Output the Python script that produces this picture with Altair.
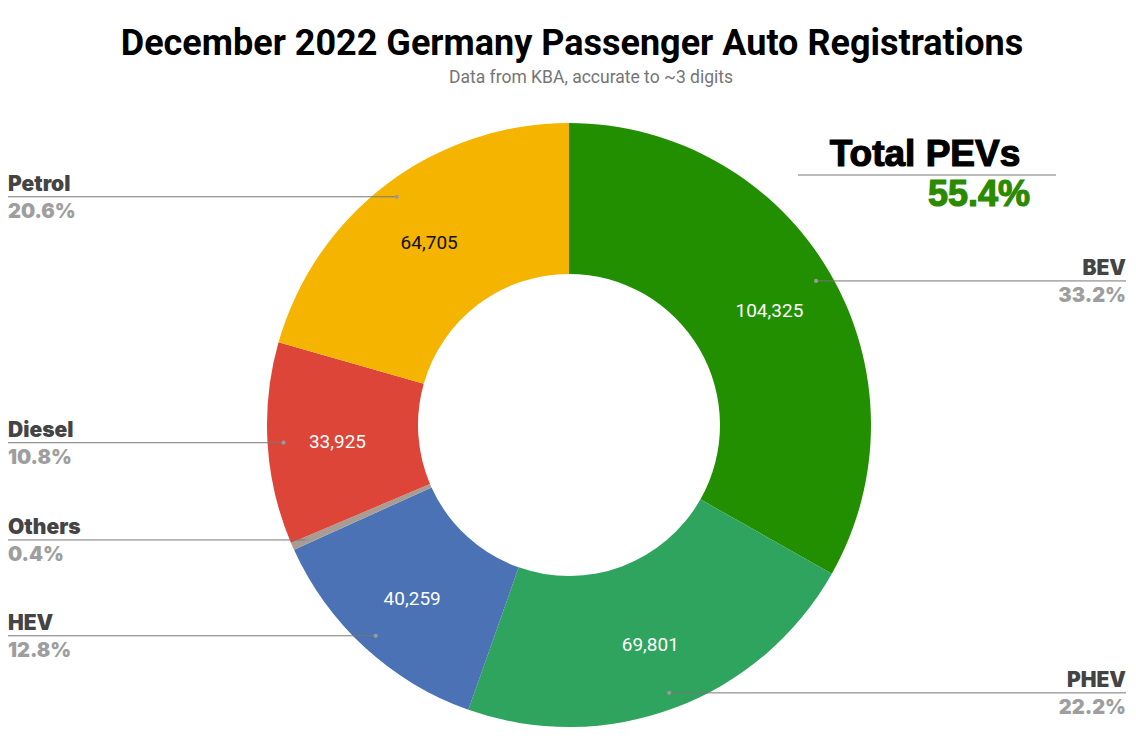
import altair as alt
import pandas as pd

# ---- data ----
categories = ["BEV", "PHEV", "HEV", "Others", "Diesel", "Petrol"]
values = [104325, 69801, 40259, 1250, 33925, 64705]
order_idx = [0, 1, 2, 3, 4, 5]
colors = ["#228F00", "#2EA45E", "#4A72B5", "#A89C94", "#DD4538", "#F4B400"]

title_text = "December 2022 Germany Passenger Auto Registrations"
subtitle_text = "Data from KBA, accurate to ~3 digits"
pev_title = "Total PEVs"
pev_value = "55.4%"

df = pd.DataFrame({"category": categories, "value": values, "idx": order_idx})

CX, CY = 561, 417
R_OUT, R_IN = 302, 151
R_DOT, R_LBL = 286, 232
W, H = 1120, 736

base = alt.Chart(df).transform_joinaggregate(
    total="sum(value)"
).transform_window(
    cum="sum(value)", sort=[alt.SortField("idx")], frame=[None, 0]
).transform_calculate(
    mid="2*PI*(datum.cum - datum.value/2)/datum.total",
    pct="format(datum.value/datum.total, '.1%')",
).transform_calculate(
    dx=f"{CX} + {R_DOT}*sin(datum.mid)",
    dy=f"{CY} - {R_DOT}*cos(datum.mid)",
    lx=f"{CX} + {R_LBL}*sin(datum.mid)",
    ly=f"{CY} + 3 - {R_LBL}*cos(datum.mid)",
    right="sin(datum.mid) > 0",
    ny="datum.dy - 6",
    py="datum.dy + 5",
    xl="0",
    xr=f"{W - 2}",
)

arcs = alt.Chart(df).mark_arc(innerRadius=R_IN, outerRadius=R_OUT).encode(
    theta=alt.Theta("value:Q", stack=True),
    color=alt.Color("category:N", scale=alt.Scale(domain=categories, range=colors), legend=None),
    order=alt.Order("idx:Q"),
    x=alt.value(CX),
    y=alt.value(CY),
)

inner = base.transform_filter("datum.value > 5000").mark_text(
    font="Roboto", fontSize=19, align="center", baseline="middle"
).encode(
    x=alt.X("lx:Q", scale=None),
    y=alt.Y("ly:Q", scale=None),
    text=alt.Text("value:Q", format=","),
    color=alt.condition(alt.datum.category == "Petrol", alt.value("#111111"), alt.value("white")),
)

dots = base.mark_circle(size=18, opacity=1, color="#9a9a9a").encode(
    x=alt.X("dx:Q", scale=None),
    y=alt.Y("dy:Q", scale=None),
)

left = base.transform_filter("!datum.right")
right = base.transform_filter("datum.right")

rule_l = left.mark_rule(color="#777777", strokeWidth=1).encode(
    x=alt.X("xl:Q", scale=None), x2="dx:Q", y=alt.Y("dy:Q", scale=None)
)
rule_r = right.mark_rule(color="#777777", strokeWidth=1).encode(
    x=alt.X("dx:Q", scale=None), x2="xr:Q", y=alt.Y("dy:Q", scale=None)
)

name_kw = dict(font="Inter", fontWeight=900, fontSize=21, color="#444444", baseline="alphabetic")
pct_kw = dict(font="Inter", fontWeight=900, fontSize=20, color="#9e9e9e", baseline="top")

name_l = left.mark_text(align="left", **name_kw).encode(
    x=alt.X("xl:Q", scale=None), y=alt.Y("ny:Q", scale=None), text="category:N")
pct_l = left.mark_text(align="left", **pct_kw).encode(
    x=alt.X("xl:Q", scale=None), y=alt.Y("py:Q", scale=None), text="pct:N")
name_r = right.mark_text(align="right", **name_kw).encode(
    x=alt.X("xr:Q", scale=None), y=alt.Y("ny:Q", scale=None), text="category:N")
pct_r = right.mark_text(align="right", **pct_kw).encode(
    x=alt.X("xr:Q", scale=None), y=alt.Y("py:Q", scale=None), text="pct:N")

tdf = pd.DataFrame({"t": [title_text]})
sdf = pd.DataFrame({"t": [subtitle_text]})
pdf = pd.DataFrame({"t": [pev_title]})
vdf = pd.DataFrame({"t": [pev_value]})

title = alt.Chart(tdf).mark_text(font="Roboto", fontWeight="bold", fontSize=36, color="#000000",
                                 align="center", baseline="alphabetic").encode(
    x=alt.value(564), y=alt.value(47), text="t:N")
subtitle = alt.Chart(sdf).mark_text(font="Roboto", fontSize=17.5, color="#757575",
                                    align="center", baseline="alphabetic").encode(
    x=alt.value(583), y=alt.value(75), text="t:N")
pev_t = alt.Chart(pdf).mark_text(font="Liberation Sans", fontWeight="bold", fontSize=37, color="#000000",
                                 stroke="#000000", strokeWidth=1.2,
                                 align="center", baseline="alphabetic").encode(
    x=alt.value(917), y=alt.value(158), text="t:N")
pev_line = alt.Chart(pdf).mark_rule(color="#777777", strokeWidth=1).encode(
    x=alt.value(790), x2=alt.value(1048), y=alt.value(167))
pev_v = alt.Chart(vdf).mark_text(font="Liberation Sans", fontWeight="bold", fontSize=36, color="#2A8A00",
                                 stroke="#2A8A00", strokeWidth=1.2,
                                 align="right", baseline="alphabetic").encode(
    x=alt.value(1022), y=alt.value(198), text="t:N")

chart = alt.layer(
    arcs, inner, rule_l, rule_r, dots, name_l, pct_l, name_r, pct_r,
    title, subtitle, pev_t, pev_line, pev_v
).properties(
    width=W, height=H, padding=0, autosize="none"
).configure_view(stroke=None)

chart.save("out.html", embed_options={"renderer": "svg", "actions": False})
